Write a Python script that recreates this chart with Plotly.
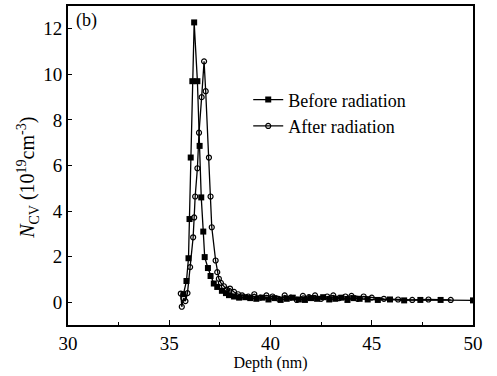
import plotly.graph_objects as go

before_x = [35.7, 35.85, 35.95, 36.0, 36.06, 36.14, 36.23, 36.39, 36.5, 36.58, 36.68, 36.75,
            36.91, 37.04, 37.2, 37.37, 37.6, 37.8, 37.95, 38.2, 38.45, 38.75, 39.0, 39.3,
            39.6, 39.9, 40.2, 40.5, 40.8, 41.1, 41.4, 41.7, 42.0, 42.3, 42.6, 42.9, 43.2,
            43.5, 43.8, 44.1, 44.4, 44.8, 45.3, 45.9, 46.6, 47.4, 48.4, 50.0]
before_y = [0.35, 0.93, 1.93, 3.65, 6.35, 9.7, 12.28, 9.7, 6.86, 4.6, 3.1, 1.98,
            1.5, 1.15, 0.82, 0.67, 0.5, 0.4, 0.31, 0.25, 0.2, 0.22, 0.18, 0.15,
            0.2, 0.12, 0.18, 0.1, 0.15, 0.2, 0.12, 0.1, 0.18, 0.15, 0.22, 0.12, 0.15,
            0.2, 0.1, 0.18, 0.15, 0.12, 0.1, 0.12, 0.08, 0.1, 0.1, 0.08]

after_x = [35.57, 35.62, 35.7, 35.8, 35.9, 36.03, 36.18, 36.23, 36.28, 36.39, 36.47, 36.6,
           36.72, 36.8, 36.96, 37.04, 37.1, 37.29, 37.37, 37.45, 37.55, 37.7, 37.85, 38.0,
           38.2, 38.4, 38.6, 38.9, 39.2, 39.5, 39.8, 40.1, 40.4, 40.7, 41.0, 41.3, 41.6,
           41.9, 42.2, 42.5, 42.8, 43.1, 43.4, 43.7, 44.0, 44.3, 44.6, 45.0, 45.6, 46.3,
           47.0, 47.8, 48.9]
after_y = [0.38, -0.2, 0.17, 0.05, 0.4, 1.54, 2.85, 3.72, 4.64, 5.88, 7.44, 9.0,
           10.57, 9.26, 6.35, 4.64, 3.29, 1.83, 1.32, 1.03, 0.85, 0.7, 0.55, 0.6,
           0.45, 0.35, 0.3, 0.25, 0.35, 0.2, 0.3, 0.25, 0.15, 0.3, 0.2, 0.1, 0.28,
           0.22, 0.3, 0.15, 0.25, 0.3, 0.18, 0.25, 0.28, 0.15, 0.25, 0.2, 0.15, 0.12,
           0.1, 0.12, 0.1]

FONT = "Liberation Serif, Times New Roman, serif"

fig = go.Figure()
fig.add_trace(go.Scatter(
    x=before_x, y=before_y, mode="lines+markers", name="Before radiation",
    line=dict(color="black", width=1.3),
    marker=dict(symbol="square", size=6, color="black"),
))
fig.add_trace(go.Scatter(
    x=after_x, y=after_y, mode="lines+markers", name="After radiation",
    line=dict(color="black", width=1.3),
    marker=dict(symbol="circle-open", size=5, color="black", line=dict(width=1.2)),
))

fig.update_layout(
    width=497, height=376,
    margin=dict(l=68, r=24, t=4, b=51),
    paper_bgcolor="white", plot_bgcolor="white",
    font=dict(family=FONT, size=18, color="black"),
    showlegend=True,
    legend=dict(x=0.445, y=0.665, xanchor="left", yanchor="middle",
                bgcolor="rgba(0,0,0,0)", font=dict(family=FONT, size=18),
                itemwidth=30, tracegroupgap=0),
    xaxis=dict(
        range=[30, 50], tickvals=[30, 35, 40, 45, 50],
        ticks="inside", ticklen=5, tickwidth=1.2, tickcolor="black",
        minor=dict(ticks="inside", ticklen=3, tickwidth=1.2, tickcolor="black", dtick=2.5),
        showline=True, linecolor="black", linewidth=2, mirror=True,
        showgrid=False, zeroline=False,
        title=dict(text="Depth (nm)", font=dict(family=FONT, size=16), standoff=3),
        tickfont=dict(family=FONT, size=19),
    ),
    yaxis=dict(
        range=[-1, 13], tickvals=[0, 2, 4, 6, 8, 10, 12],
        ticks="inside", ticklen=4, tickwidth=1.2, tickcolor="black",
        showline=True, linecolor="black", linewidth=2, mirror=True,
        showgrid=False, zeroline=False,
        tickfont=dict(family=FONT, size=19),
    ),
    annotations=[
        dict(text="(b)", x=0.015, y=0.995, xref="paper", yref="paper",
             xanchor="left", yanchor="top", showarrow=False,
             font=dict(family=FONT, size=18)),
        dict(text="<i>N</i><sub>CV</sub> (10<sup>19</sup>cm<sup>-3</sup>)",
             x=-0.099, y=0.461, xref="paper", yref="paper", textangle=-90,
             xanchor="center", yanchor="middle", showarrow=False,
             font=dict(family=FONT, size=20)),
    ],
)

fig.write_html("out.html", config={"displayModeBar": False},
               post_script="document.body.style.margin='0';")
